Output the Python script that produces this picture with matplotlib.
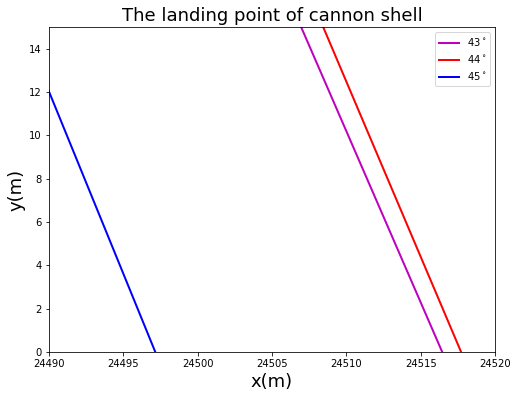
import matplotlib.pyplot as plt

# landing segments of each trajectory near the ground (x in m, y in m)
angles = [43, 44, 45]
x_43 = [24506.2, 24516.45]
y_43 = [16.2, 0.0]
x_44 = [24507.7, 24517.72]
y_44 = [16.2, 0.0]
x_45 = [24489.0, 24497.15]
y_45 = [13.7, 0.0]
colors = ["m", "r", "b"]

fig = plt.figure(figsize=(518 / 72, 399 / 72), dpi=72)
ax = fig.add_axes([49 / 518, 1 - 352 / 399, 446 / 518, 325 / 399])

for xs, ys, ang, c in zip([x_43, x_44, x_45], [y_43, y_44, y_45], angles, colors):
    ax.plot(xs, ys, color=c, linewidth=2, label=f"{ang}$^\\circ$")

ax.set_xlim(24490, 24520)
ax.set_ylim(0, 15)
ax.ticklabel_format(useOffset=False, style="plain")
ax.set_title("The landing point of cannon shell", fontsize=18)
ax.set_xlabel("x(m)", fontsize=18)
ax.set_ylabel("y(m)", fontsize=18)
ax.tick_params(labelsize=10)
ax.legend(loc="upper right", fontsize=10)

fig.savefig("out.png", dpi=72)
